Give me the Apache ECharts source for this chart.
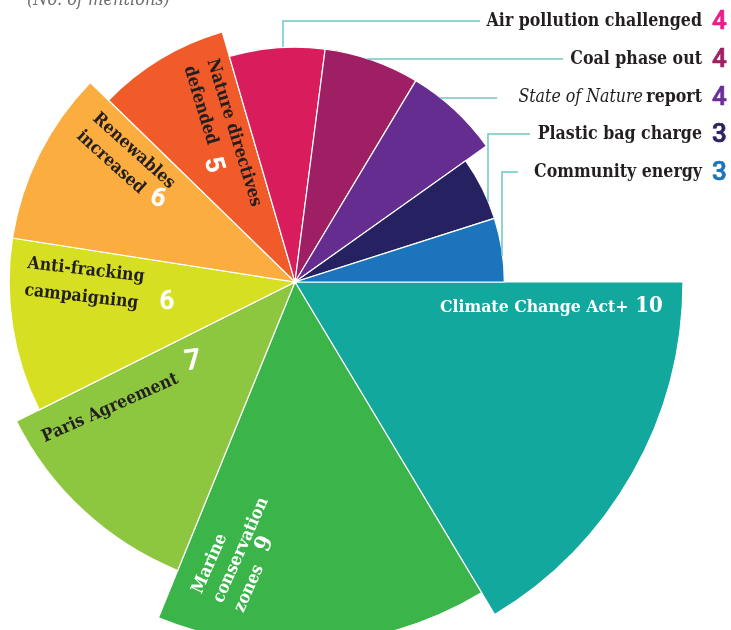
<!DOCTYPE html>
<html>
<head>
<meta charset="utf-8">
<script src="https://cdn.jsdelivr.net/npm/echarts@6/dist/echarts.min.js"></script>
<style>
  html, body { margin: 0; padding: 0; background: #fff; }
  #chart { width: 731px; height: 630px; }
</style>
</head>
<body>
<div id="chart"></div>
<script>
// Environmental wins, number of mentions
const categories = [
  'Climate Change Act+', 'Marine conservation zones', 'Paris Agreement',
  'Anti-fracking campaigning', 'Renewables increased', 'Nature directives defended',
  'Air pollution challenged', 'Coal phase out', 'State of Nature report',
  'Plastic bag charge', 'Community energy'
];
const mentions = [10, 9, 7, 6, 6, 5, 4, 4, 4, 3, 3];
const sliceColors = [
  '#13a89e', '#3bb54a', '#8dc63f', '#d7df23', '#fbad3f', '#f15a29',
  '#d91c5c', '#9e1f63', '#662d91', '#262262', '#1c75bc'
];
const numberColors = {
  6: '#ec1a8c', 7: '#9e1f63', 8: '#6b2f99', 9: '#2b2364', 10: '#1b75bc'
};

const total = mentions.reduce((a, b) => a + b, 0);
const starts = [];
mentions.reduce((acc, v, i) => { starts[i] = acc; return acc + v; }, 0);

const SERIF = '"DejaVu Serif Condensed", "DejaVu Serif", serif';
const SANS = 'Roboto, "Open Sans", sans-serif';
const DARK = '#231f20';

const chart = echarts.init(document.getElementById('chart'), null, { renderer: 'canvas' });

// Outside labels (right column) with leader lines
const rightRows = [
  { idx: 6, y: 21 },
  { idx: 7, y: 59 },
  { idx: 8, y: 97 },
  { idx: 9, y: 134 },
  { idx: 10, y: 172 }
];
const leaders = [
  [[283, 47], [283, 21], [480, 21]],
  [[367, 59], [563, 59]],
  [[440, 98], [497, 98]],
  [[488, 202], [488, 134], [530, 134]],
  [[502, 256], [502, 172], [518, 172]]
];

const graphics = [];

graphics.push({
  type: 'text', x: 27, y: 9,
  style: { text: '(No. of mentions)', font: 'italic 18px ' + SERIF, fill: '#6d6e71',
           align: 'left', verticalAlign: 'bottom' }
});

leaders.forEach(pts => graphics.push({
  type: 'polyline', shape: { points: pts },
  style: { stroke: '#6fc7c1', lineWidth: 1.5, fill: null }, z: 10
}));

rightRows.forEach(row => {
  const name = categories[row.idx];
  let text;
  if (name.indexOf('State of Nature') === 0) {
    text = '{i|State of Nature} {b|report}';
  } else {
    text = '{b|' + name + '}';
  }
  graphics.push({
    type: 'text', x: 702, y: row.y,
    style: {
      text: text, align: 'right', verticalAlign: 'middle',
      rich: {
        b: { font: 'bold 17.6px ' + SERIF, fill: DARK },
        i: { font: 'italic 17.6px ' + SERIF, fill: DARK }
      }
    }, z: 10
  });
  graphics.push({
    type: 'text', x: 712, y: row.y + 1,
    style: { text: String(mentions[row.idx]), font: '500 26px ' + SANS,
             fill: numberColors[row.idx], stroke: numberColors[row.idx], lineWidth: 0.7,
             align: 'left', verticalAlign: 'middle' },
    z: 10
  });
});

// Labels placed inside the slices
const deg = Math.PI / 180;
const inner = [
  { idx: 0, lines: ['Climate Change Act+'], x: 440, y: 307, rot: 0, fill: '#fff', lh: 24,
    num: { x: 649, y: 306, rot: 0, font: 'bold 22px ' + SERIF, sw: 0 } },
  { idx: 1, lines: ['Marine', 'conservation', 'zones'], x: 218, y: 602, rot: 66, fill: '#fff', lh: 23,
    num: { x: 265, y: 544, rot: 66, font: 'bold 23px ' + SERIF, sw: 0 } },
  { idx: 2, lines: ['Paris Agreement'], x: 43, y: 438, rot: 24, fill: DARK, lh: 24,
    num: { x: 193, y: 362, rot: 8, font: '500 28px ' + SANS, sw: 0.7 } },
  { idx: 3, lines: ['Anti-fracking', 'campaigning'], x: 26, y: 277, rot: -6.5, fill: DARK, lh: 27,
    num: { x: 167, y: 302, rot: 0, font: '500 26px ' + SANS, sw: 0.7 } },
  { idx: 4, lines: ['Renewables', 'increased'], x: 87, y: 125, rot: -42, fill: DARK, lh: 24,
    num: { x: 158, y: 199, rot: -20, font: '500 26px ' + SANS, sw: 0.7 } },
  { idx: 5, lines: ['Nature directives', 'defended'], x: 200, y: 63, rot: -73, fill: DARK, lh: 24,
    num: { x: 213, y: 165, rot: -73, font: '500 26px ' + SANS, sw: 0.7 } }
];

inner.forEach(lab => {
  graphics.push({
    type: 'text', x: lab.x, y: lab.y, rotation: lab.rot * deg,
    style: { text: lab.lines.join('\n'), font: 'bold 17.5px ' + SERIF, fill: lab.fill,
             align: 'left', verticalAlign: 'middle', lineHeight: lab.lh },
    z: 10
  });
  graphics.push({
    type: 'text', x: lab.num.x, y: lab.num.y, rotation: lab.num.rot * deg,
    style: { text: String(mentions[lab.idx]), font: lab.num.font, fill: '#fff',
             stroke: lab.num.sw ? '#fff' : null, lineWidth: lab.num.sw,
             align: 'center', verticalAlign: 'middle' },
    z: 10
  });
});

const option = {
  backgroundColor: '#ffffff',
  animation: false,
  polar: { center: [295, 282], radius: 388 },
  angleAxis: {
    type: 'value', min: 0, max: total, startAngle: 0, clockwise: true, show: false,
    splitLine: { show: false }, axisLine: { show: false }, axisTick: { show: false },
    axisLabel: { show: false }
  },
  radiusAxis: {
    type: 'value', min: -5.2, max: 10, show: false,
    splitLine: { show: false }, axisLine: { show: false }, axisTick: { show: false },
    axisLabel: { show: false }
  },
  series: [{
    type: 'custom',
    coordinateSystem: 'polar',
    data: mentions.map((v, i) => [v, starts[i], starts[i] + v, i]),
    renderItem: function (params, api) {
      const cs = params.coordSys;
      const v = api.value(0);
      const p0 = api.coord([v, api.value(1)]);
      const p1 = api.coord([v, api.value(2)]);
      const r = Math.hypot(p0[0] - cs.cx, p0[1] - cs.cy);
      let a0 = Math.atan2(p0[1] - cs.cy, p0[0] - cs.cx);
      let a1 = Math.atan2(p1[1] - cs.cy, p1[0] - cs.cx);
      while (a1 <= a0) a1 += Math.PI * 2;
      return {
        type: 'sector',
        shape: { cx: cs.cx, cy: cs.cy, r0: 0, r: r, startAngle: a0, endAngle: a1, clockwise: true },
        style: { fill: sliceColors[api.value(3)], stroke: '#ffffff', lineWidth: 1.2 }
      };
    }
  }],
  graphic: graphics
};

chart.setOption(option);
</script>
</body>
</html>
